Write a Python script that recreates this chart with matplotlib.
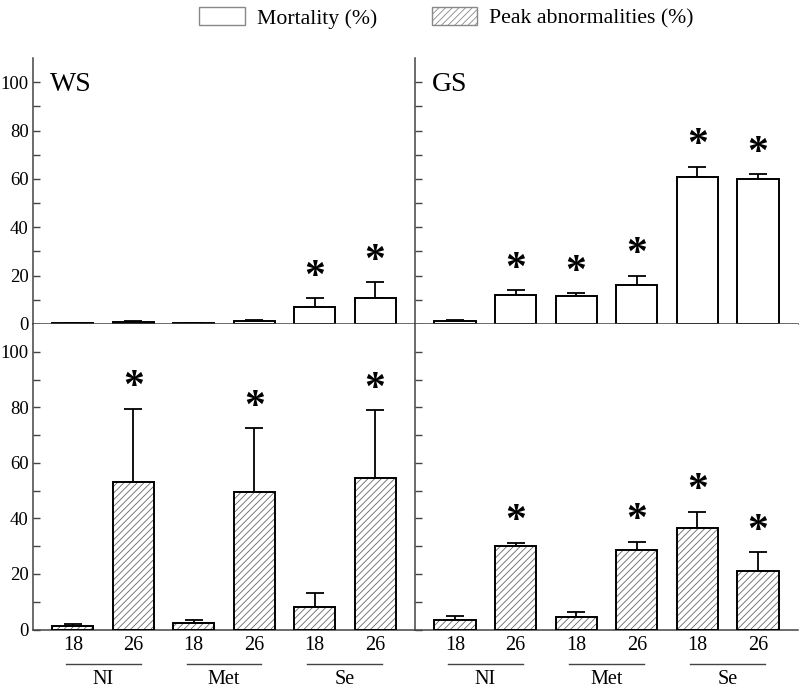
import numpy as np
import matplotlib.pyplot as plt
from matplotlib.patches import Patch
from matplotlib.transforms import blended_transform_factory

plt.rcParams['font.family'] = ['Liberation Serif', 'DejaVu Serif']
plt.rcParams['hatch.linewidth'] = 0.6

temps = ['18', '26', '18', '26', '18', '26']
groups = ['NI', 'Met', 'Se']

# mortality (%) and upper error
ws_mort = [0.4, 0.8, 0.4, 1.2, 7.1, 10.6]
ws_mort_err = [0.2, 0.3, 0.2, 0.5, 3.5, 6.7]
gs_mort = [1.1, 12.1, 11.6, 16.1, 60.6, 60.0]
gs_mort_err = [0.5, 1.8, 1.1, 3.8, 4.5, 2.0]

# peak abnormalities (%) and upper error
ws_abn = [1.1, 53.1, 2.2, 49.5, 8.2, 54.6]
ws_abn_err = [0.8, 26.4, 1.4, 23.0, 4.9, 24.4]
gs_abn = [3.6, 30.0, 4.5, 28.7, 36.7, 21.0]
gs_abn_err = [1.4, 1.2, 1.9, 2.9, 5.7, 6.9]

ws_mort_sig = [0, 0, 0, 0, 1, 1]
gs_mort_sig = [0, 1, 1, 1, 1, 1]
ws_abn_sig = [0, 1, 0, 1, 0, 1]
gs_abn_sig = [0, 1, 0, 1, 1, 1]

x = np.arange(6)
W = 0.68
HATCH_COL = '#666666'
SPINE_COL = '#444444'

fig = plt.figure(figsize=(8, 6.89), dpi=100)
x0, xm, x1 = 33 / 800, 415 / 800, 798 / 800
yb, ym, yt = 1 - 629.5 / 689, 1 - 324 / 689, 1 - 58 / 689
ax_tl = fig.add_axes([x0, ym, xm - x0, yt - ym])
ax_tr = fig.add_axes([xm, ym, x1 - xm, yt - ym])
ax_bl = fig.add_axes([x0, yb, xm - x0, ym - yb])
ax_br = fig.add_axes([xm, yb, x1 - xm, ym - yb])


def draw(ax, vals, errs, sig, hatched):
    if hatched:
        ax.bar(x, vals, W, color='white', edgecolor=HATCH_COL, hatch='/////', linewidth=0, zorder=2)
        ax.bar(x, vals, W, fill=False, edgecolor='black', linewidth=1.4, zorder=3)
    else:
        ax.bar(x, vals, W, color='white', edgecolor='black', linewidth=1.4, zorder=3)
    ax.errorbar(x, vals, yerr=[np.zeros(6), errs], fmt='none', ecolor='black',
                elinewidth=1.3, capsize=6.5, capthick=1.3, zorder=1)
    for xi, v, e, s in zip(x, vals, errs, sig):
        if s:
            ax.annotate('*', (xi, v + e), xytext=(0, 7.5), textcoords='offset points',
                        ha='center', va='baseline', fontsize=30, fontweight='bold')
    ax.set_xlim(-0.66, 5.66)
    ax.set_ylim(0, 110)
    for sp in ['top', 'right']:
        ax.spines[sp].set_visible(False)
    ax.spines['left'].set_color(SPINE_COL)
    ax.spines['bottom'].set_color(SPINE_COL)
    ax.spines['left'].set_linewidth(1.1)
    ax.spines['bottom'].set_linewidth(1.1)
    ax.set_yticks(np.arange(0, 101, 20))
    ax.set_yticks(np.arange(10, 101, 20), minor=True)
    ax.tick_params(axis='y', which='both', direction='in', length=5, width=1,
                   color=SPINE_COL, labelsize=13.5, pad=3)
    ax.tick_params(axis='x', length=0)


draw(ax_tl, ws_mort, ws_mort_err, ws_mort_sig, False)
draw(ax_tr, gs_mort, gs_mort_err, gs_mort_sig, False)
draw(ax_bl, ws_abn, ws_abn_err, ws_abn_sig, True)
draw(ax_br, gs_abn, gs_abn_err, gs_abn_sig, True)

for ax in [ax_tr, ax_br]:
    ax.tick_params(axis='y', labelleft=False)
for ax in [ax_tl, ax_tr]:
    ax.set_xticks([])
    ax.spines['bottom'].set_zorder(4)

for ax in [ax_bl, ax_br]:
    ax.set_xticks(x)
    ax.set_xticklabels(temps, fontsize=14.5)
    ax.tick_params(axis='x', pad=5)
    tr = blended_transform_factory(ax.transData, ax.transAxes)
    for g, name in enumerate(groups):
        a, b = 2 * g, 2 * g + 1
        ax.plot([a - 0.12, b + 0.12], [-0.113, -0.113], color=SPINE_COL, lw=1,
                transform=tr, clip_on=False)
        ax.text((a + b) / 2, -0.163, name, transform=tr, ha='center', va='center',
                fontsize=14.5)

ax_tl.text(0.045, 0.90, 'WS', transform=ax_tl.transAxes, fontsize=20, va='center')
ax_tr.text(0.045, 0.90, 'GS', transform=ax_tr.transAxes, fontsize=20, va='center')

handles = [Patch(facecolor='white', edgecolor='#888888', linewidth=1),
           Patch(facecolor='white', edgecolor='#888888', hatch='/////', linewidth=1)]
fig.legend(handles, ['Mortality (%)', 'Peak abnormalities (%)'], loc='center',
           bbox_to_anchor=(0.558, 0.974), ncol=2, frameon=False, fontsize=15.7,
           handlelength=2.1, handleheight=0.86, handletextpad=0.55, columnspacing=2.5)

fig.savefig('out.png', dpi=100)
